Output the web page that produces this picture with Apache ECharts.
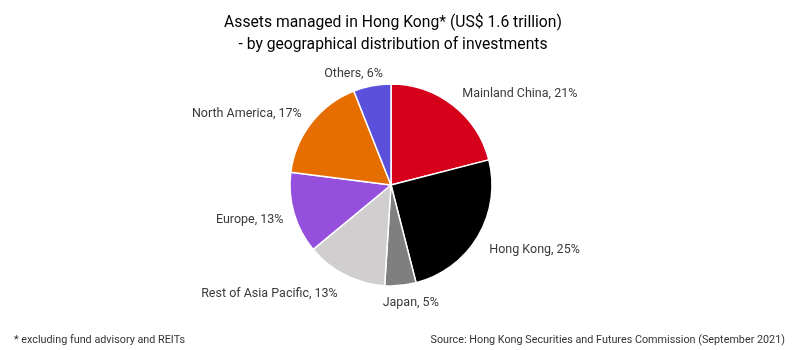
<!DOCTYPE html>
<html>
<head>
<meta charset="utf-8">
<script src="https://cdn.jsdelivr.net/npm/echarts@6/dist/echarts.min.js"></script>
<style>
html,body{margin:0;padding:0;background:#fff;}
#chart{width:796px;height:350px;}
</style>
</head>
<body>
<div id="chart"></div>
<script>
const categories = ['Mainland China', 'Hong Kong', 'Japan', 'Rest of Asia Pacific', 'Europe', 'North America', 'Others'];
const shares = [21, 25, 5, 13, 13, 17, 6];
const sliceColors = ['#D7001B', '#000000', '#7F7F7F', '#D0CECE', '#9450DC', '#E66E00', '#5A50DC'];
const titleText = 'Assets managed in Hong Kong* (US$ 1.6 trillion)\n- by geographical distribution of investments';
const footnoteText = '* excluding fund advisory and REITs';
const sourceText = 'Source: Hong Kong Securities and Futures Commission (September 2021)';
// label nudges (style only), in category order
const labelNudges = [[-3, -2], [-4, 7], [-24, 5], [3, 8], [6, 3], [5, -2], [18, 0]];

const chart = echarts.init(document.getElementById('chart'), null, {renderer: 'canvas'});
const data = categories.map((c, i) => ({
  name: c,
  value: shares[i],
  itemStyle: {color: sliceColors[i]},
  label: {offset: labelNudges[i]}
}));
chart.setOption({
  animation: false,
  backgroundColor: '#ffffff',
  title: [
    {text: titleText, left: 388, top: 7, textAlign: 'center',
     textStyle: {fontFamily: 'Roboto', fontSize: 15.7, fontWeight: 'normal', color: '#000', lineHeight: 22}},
    {text: footnoteText, left: 9, top: 330,
     textStyle: {fontFamily: 'Roboto', fontSize: 10.8, fontWeight: 'normal', color: '#333'}},
    {text: sourceText, right: 6, top: 330,
     textStyle: {fontFamily: 'Roboto', fontSize: 10.8, fontWeight: 'normal', color: '#333'}}
  ],
  series: [{
    type: 'pie',
    center: [391, 185],
    radius: [0, 101],
    startAngle: 90,
    clockwise: true,
    avoidLabelOverlap: false,
    itemStyle: {borderColor: '#fff', borderWidth: 1.5},
    label: {
      show: true,
      position: 'outside',
      formatter: p => p.name + ', ' + p.value + '%',
      fontFamily: 'Roboto', fontSize: 12.5, color: '#3a3a3a'
    },
    labelLine: {show: false, length: 12, length2: 0},
    emphasis: {disabled: true},
    data: data
  }]
});
</script>
</body>
</html>
